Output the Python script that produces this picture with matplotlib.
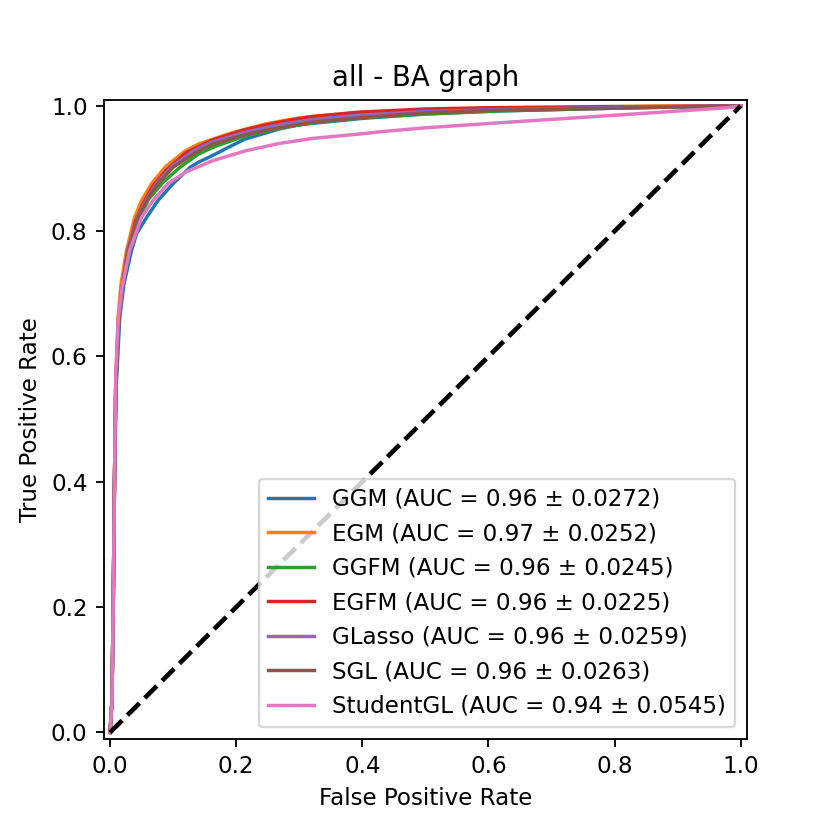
import matplotlib
matplotlib.use('Agg')
import matplotlib.pyplot as plt

# ROC curves (fpr, tpr pairs)
low_fpr = [0.0, 0.003, 0.005, 0.007]
low_tpr = [0.0, 0.05, 0.2, 0.4]

ggm_fpr = [0.010, 0.0154, 0.022, 0.034, 0.042, 0.058, 0.076, 0.100, 0.127, 0.14, 0.161,
           0.188, 0.214, 0.241, 0.268, 0.3, 0.4, 0.5, 0.618, 0.83, 1.0]
ggm_tpr = [0.557, 0.663, 0.716, 0.769, 0.796, 0.822, 0.849, 0.876, 0.902, 0.910, 0.920,
           0.934, 0.947, 0.955, 0.963, 0.970, 0.980, 0.987, 0.992, 0.997, 1.0]

egm_fpr = [0.009, 0.0127, 0.0175, 0.026, 0.039, 0.05, 0.066, 0.087, 0.119, 0.14, 0.193,
           0.246, 0.30, 0.40, 0.55, 0.7, 0.85, 1.0]
egm_tpr = [0.557, 0.663, 0.716, 0.769, 0.822, 0.849, 0.876, 0.902, 0.928, 0.939, 0.957,
           0.971, 0.981, 0.99, 0.995, 0.997, 0.999, 1.0]

ggfm_fpr = [0.009, 0.0135, 0.019, 0.03, 0.047, 0.061, 0.084, 0.111, 0.14, 0.166, 0.214,
            0.268, 0.321, 0.4, 0.5, 0.618, 0.83, 1.0]
ggfm_tpr = [0.55, 0.65, 0.705, 0.769, 0.822, 0.851, 0.878, 0.902, 0.923, 0.935, 0.952,
            0.964, 0.973, 0.981, 0.987, 0.992, 0.997, 1.0]

egfm_fpr = [0.009, 0.013, 0.018, 0.027, 0.04, 0.052, 0.068, 0.09, 0.12, 0.161, 0.214,
            0.268, 0.321, 0.395, 0.5, 0.6, 0.8, 1.0]
egfm_tpr = [0.55, 0.65, 0.705, 0.76, 0.815, 0.843, 0.872, 0.898, 0.925, 0.945, 0.962,
            0.974, 0.983, 0.990, 0.995, 0.997, 0.999, 1.0]

glasso_fpr = [0.009, 0.0135, 0.019, 0.0285, 0.0446, 0.06, 0.076, 0.10, 0.135, 0.161, 0.214,
              0.268, 0.321, 0.395, 0.5, 0.618, 0.83, 1.0]
glasso_tpr = [0.553, 0.653, 0.708, 0.772, 0.825, 0.855, 0.879, 0.905, 0.930, 0.942, 0.958,
              0.970, 0.978, 0.985, 0.991, 0.994, 0.998, 1.0]

sgl_fpr = [0.009, 0.0135, 0.019, 0.0285, 0.0446, 0.06, 0.076, 0.10, 0.135, 0.161, 0.214,
           0.268, 0.321, 0.395, 0.5, 0.618, 0.83, 1.0]
sgl_tpr = [0.55, 0.65, 0.705, 0.769, 0.822, 0.852, 0.876, 0.902, 0.925, 0.938, 0.954,
           0.965, 0.974, 0.981, 0.989, 0.993, 0.997, 1.0]

student_fpr = [0.009, 0.013, 0.019, 0.031, 0.050, 0.068, 0.092, 0.121, 0.148, 0.161, 0.214,
               0.268, 0.321, 0.395, 0.432, 0.5, 0.618, 0.83, 0.979, 1.0]
student_tpr = [0.57, 0.66, 0.71, 0.769, 0.822, 0.849, 0.876, 0.895, 0.906, 0.912, 0.928,
               0.940, 0.948, 0.955, 0.959, 0.965, 0.973, 0.987, 0.997, 1.0]

names = ['GGM', 'EGM', 'GGFM', 'EGFM', 'GLasso', 'SGL', 'StudentGL']
auc_mean = [0.96, 0.97, 0.96, 0.96, 0.96, 0.96, 0.94]
auc_std = [0.0272, 0.0252, 0.0245, 0.0225, 0.0259, 0.0263, 0.0545]
curves = [(ggm_fpr, ggm_tpr), (egm_fpr, egm_tpr), (ggfm_fpr, ggfm_tpr), (egfm_fpr, egfm_tpr),
          (glasso_fpr, glasso_tpr), (sgl_fpr, sgl_tpr), (student_fpr, student_tpr)]

fig = plt.figure(figsize=(5, 5), dpi=166)
ax = fig.add_subplot(111)

for name, m, s, (fpr, tpr) in zip(names, auc_mean, auc_std, curves):
    ax.plot(low_fpr + fpr, low_tpr + tpr, label=f"{name} (AUC = {m:.2f} \u00b1 {s:.4f})")

ax.plot([0, 1], [0, 1], 'k--', lw=2)
ax.set_xlim(-0.01, 1.01)
ax.set_ylim(-0.01, 1.01)
ax.set_xlabel('False Positive Rate')
ax.set_ylabel('True Positive Rate')
ax.set_title('all - BA graph')
ax.legend(loc='lower right')

fig.savefig('out.png', dpi=166)
